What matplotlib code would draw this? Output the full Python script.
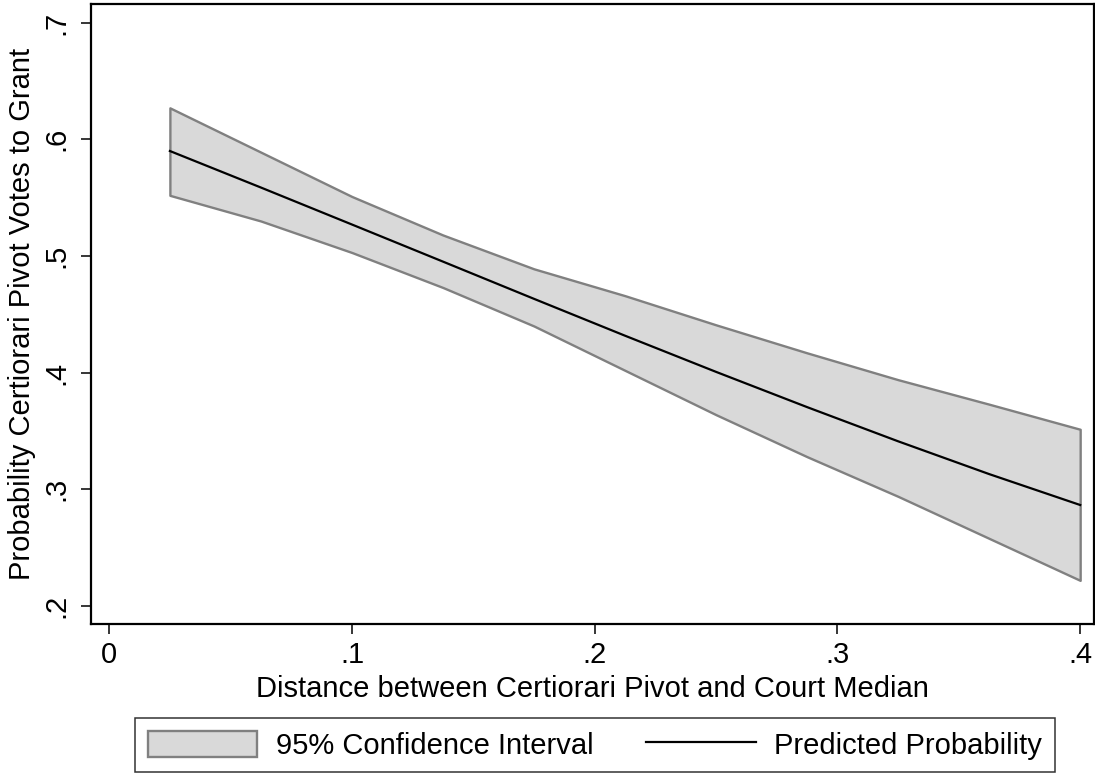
import matplotlib
matplotlib.use("Agg")
import matplotlib.pyplot as plt
from matplotlib.patches import Patch
from matplotlib.lines import Line2D

plt.rcParams['font.family'] = ['Liberation Sans', 'DejaVu Sans']

# values
distance = [0.025, 0.0625, 0.1, 0.1375, 0.175, 0.2125, 0.25, 0.2875, 0.325, 0.3625, 0.4]
upper = [0.627, 0.589, 0.551, 0.518, 0.489, 0.466, 0.441, 0.417, 0.394, 0.373, 0.3515]
lower = [0.552, 0.530, 0.503, 0.473, 0.440, 0.402, 0.364, 0.328, 0.294, 0.258, 0.222]
predicted = [0.590, 0.5587, 0.527, 0.4952, 0.4633, 0.4317, 0.4007, 0.3705, 0.3412, 0.3131, 0.2866]

x_ticks = [0, 0.1, 0.2, 0.3, 0.4]
x_tick_labels = ['0', '.1', '.2', '.3', '.4']
y_ticks = [0.2, 0.3, 0.4, 0.5, 0.6, 0.7]
y_tick_labels = ['.2', '.3', '.4', '.5', '.6', '.7']

band_face = '#d9d9d9'
band_edge = '#808080'
fs = 21

fig = plt.figure(figsize=(10.95, 7.74), dpi=100)
ax = fig.add_axes([91 / 1095, 150 / 774, 1003 / 1095, 620 / 774])

ax.fill_between(distance, lower, upper, facecolor=band_face, edgecolor=band_edge,
                linewidth=1.7, zorder=2)
ax.plot(distance, predicted, color='black', linewidth=1.6, zorder=3)

ax.set_xlim(-0.0075, 0.4057)
ax.set_ylim(0.1846, 0.716)
ax.set_xticks(x_ticks)
ax.set_xticklabels(x_tick_labels)
ax.set_yticks(y_ticks)
ax.set_yticklabels(y_tick_labels, rotation=90, va='center')

for s in ax.spines.values():
    s.set_linewidth(1.6)
ax.tick_params(axis='both', direction='out', length=7.5, width=1.1, labelsize=fs)
ax.tick_params(axis='x', pad=5)
ax.tick_params(axis='y', pad=7)

ax.set_xlabel("Distance between Certiorari Pivot and Court Median", fontsize=fs, labelpad=4)
ax.set_ylabel("Probability Certiorari Pivot Votes to Grant", fontsize=fs, labelpad=5)

handles = [Patch(facecolor=band_face, edgecolor=band_edge, linewidth=1.7),
           Line2D([], [], color='black', linewidth=1.6)]
labels = ["95% Confidence Interval", "Predicted Probability"]
leg = fig.legend(handles, labels, loc='lower center', ncol=2,
                 bbox_to_anchor=(595 / 1095, 2 / 774), bbox_transform=fig.transFigure,
                 fontsize=fs, frameon=True, fancybox=False, handlelength=3.75,
                 handleheight=1.0, handletextpad=0.65, columnspacing=1.8,
                 borderpad=0.42, borderaxespad=0)
leg.get_frame().set_edgecolor('black')
leg.get_frame().set_linewidth(1.1)

fig.savefig("out.png", dpi=100)
